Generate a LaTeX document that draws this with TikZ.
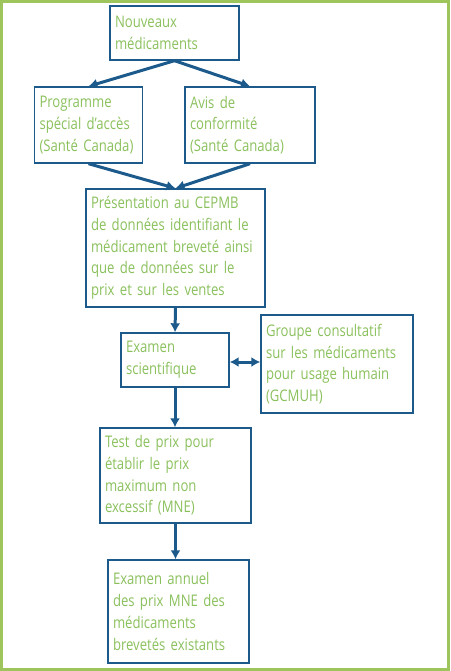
\documentclass[tikz,border=0pt]{standalone}
\usepackage{fontspec}
\setmainfont[FakeStretch=0.82, WordSpace=0.85]{Open Sans}
\usetikzlibrary{arrows.meta}
\usetikzlibrary{positioning}
\definecolor{cepmbblue}{RGB}{28,90,140}
\definecolor{cepmbgreen}{RGB}{138,192,92}
\definecolor{framegreen}{RGB}{157,197,91}
\tikzset{stepbox/.style = {draw=cepmbblue, line width=1.4pt, text=cepmbgreen,
                           align=left, inner xsep=5pt, inner ysep=0pt,
                           font=\fontsize{16}{21.7}\selectfont}}
\tikzset{flow/.style = {draw=cepmbblue, line width=3pt,
                        -{Latex[length=9pt,width=10pt]}}}

\begin{document}
\begin{tikzpicture}[x=1pt, y=-1pt]
      \useasboundingbox (0, 0) rectangle (450, 671);
      \draw [framegreen, line width=2.6pt] (1.3, 1.3) rectangle (448.7, 669.7);
      \node (nouv) at (174.5, 33) [stepbox, text width=119pt, minimum height=54pt]
            {Nouveaux\\médicaments};
      \node (prog) at (88.5, 125) [stepbox, text width=98pt, minimum height=76pt]
            {Programme\\spécial d’accès\\(Santé Canada)};
      \node (avis) at (250, 125) [stepbox, text width=120pt, minimum height=76pt]
            {Avis de\\conformité\\(Santé Canada)};
      \node (pres) at (175.5, 248) [stepbox, text width=169pt, minimum height=118pt]
            {Présentation au CEPMB\\de données identifiant le\\médicament breveté ainsi\\que de données sur le\\prix et sur les ventes};
      \node (exam) at (175, 360) [stepbox, text width=98pt, minimum height=54pt]
            {Examen\\scientifique};
      \node (gcmuh) at (337, 364) [stepbox, text width=142pt, minimum height=98pt]
            {Groupe consultatif\\sur les médicaments\\pour usage humain\\(GCMUH)};
      \node (test) at (175.5, 475.5) [stepbox, text width=141pt, minimum height=95pt]
            {Test de prix pour\\établir le prix\\maximum non\\excessif (MNE)};
      \node (annuel) at (178.5, 611.5) [stepbox, text width=131pt, minimum height=103pt]
            {Examen annuel\\des prix MNE des\\médicaments\\brevetés existants};
      \draw [flow] (nouv.south) -- (prog.north);
      \draw [flow] (nouv.south) -- (avis.north);
      \draw [flow] (prog.south) -- (pres.north);
      \draw [flow] (avis.south) -- (pres.north);
      \draw [flow] (pres.south) -- (exam.north);
      \draw [flow, {Latex[length=9pt,width=10pt]}-{Latex[length=9pt,width=10pt]}]
            ([yshift=-2pt]exam.east) -- ([yshift=-2pt]exam.east -| gcmuh.west);
      \draw [flow] (exam.south) -- (exam.south |- test.north);
      \draw [flow] (test.south) -- (test.south |- annuel.north);
    \end{tikzpicture}
\end{document}
